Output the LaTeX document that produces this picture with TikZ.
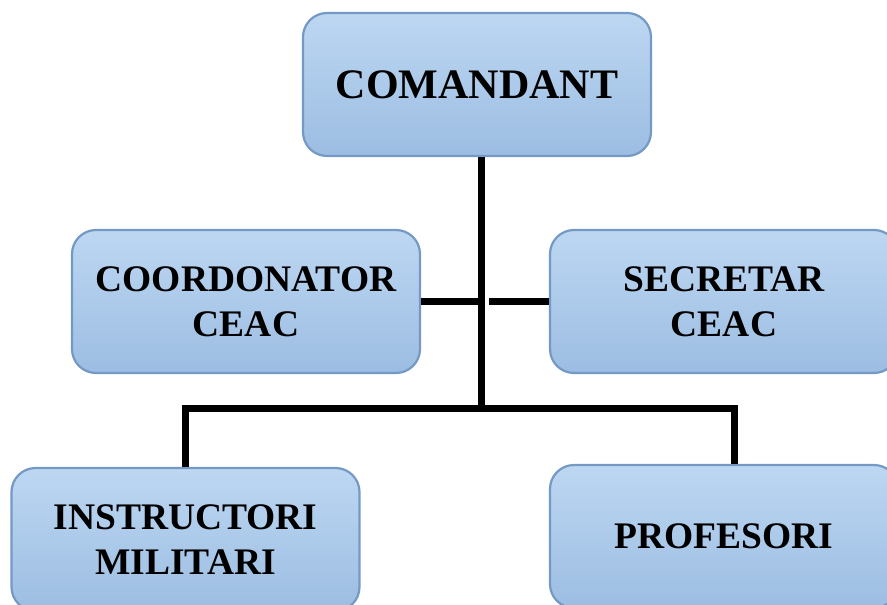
\documentclass[tikz,border=0pt]{standalone}
\usepackage{fontspec}
\setmainfont{Liberation Serif}
\begin{document}
\begin{tikzpicture}[x=1pt,y=-1pt,
    box/.style={draw=boxedge,line width=2.2pt,rounded corners=24pt,top color=boxtop,bottom color=boxbot,
        minimum width=348pt,minimum height=143pt,align=center,font=\bfseries\fontsize{37.5}{45}\selectfont},
    conn/.style={line width=7pt}]
    \definecolor{boxtop}{HTML}{BDD7F2}
    \definecolor{boxbot}{HTML}{9CBDE2}
    \definecolor{boxedge}{HTML}{7399C4}
    \useasboundingbox (0,0) rectangle (887,605);
    \node[box,font=\bfseries\fontsize{42}{48}\selectfont] (cmd) at (477,84.5) {COMANDANT};
    \node[box] (coord) at (246,301.5) {COORDONATOR\\CEAC};
    \node[box] (secr) at (724,301.5) {SECRETAR\\CEAC};
    \node[box] (instr) at (185.5,539.5) {INSTRUCTORI\\MILITARI};
    \node[box] (prof) at (724,536.5) {PROFESORI};
    \coordinate (hub) at (481.5,408);
    \coordinate (rgt) at (734,408);
    \draw[conn] (cmd.south -| hub) -- (hub);
    \draw[conn] (instr.north) |- (rgt) -- (rgt |- prof.north);
    \draw[conn,shorten >=3.5pt] (coord.east) -- (coord.east -| hub);
    \draw[conn,shorten >=7.5pt] (secr.west) -- (secr.west -| hub);
\end{tikzpicture}
\end{document}
